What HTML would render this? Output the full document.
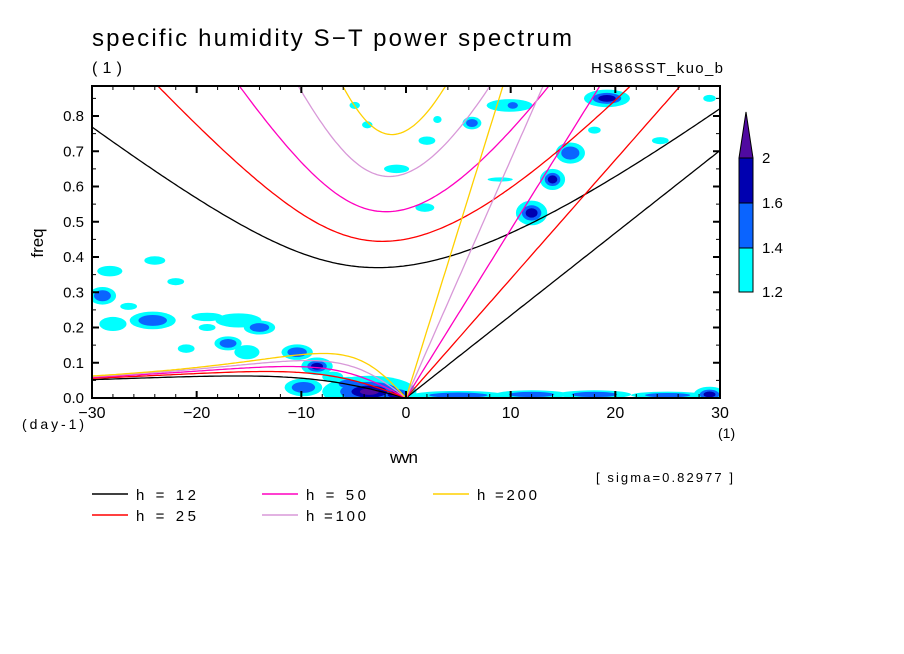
<!DOCTYPE html>
<html><head><meta charset="utf-8"><style>
body{margin:0;background:#fff;}
svg{display:block;font-family:"Liberation Sans",sans-serif;}
</style></head><body>
<svg id="chart" width="904" height="654" viewBox="0 0 904 654">
<defs><clipPath id="pc"><rect x="92" y="86" width="628" height="312"/></clipPath></defs>
<text x="92" y="46" font-size="24" textLength="480" lengthAdjust="spacing">specific humidity S−T power spectrum</text>
<text x="92" y="73" font-size="16" textLength="30">(1)</text>
<text x="591" y="73" font-size="15" textLength="132">HS86SST_kuo_b</text>
<g id="blobs" clip-path="url(#pc)"></g>
<g id="curves" clip-path="url(#pc)"></g>
<rect x="92" y="86" width="628" height="312" fill="none" stroke="#000" stroke-width="2"/>
<g id="axes"></g>
<text x="43" y="243" font-size="17" transform="rotate(-90 43 243)" text-anchor="middle">freq</text>
<text x="390" y="463" font-size="17" textLength="28">wvn</text>
<text x="22" y="429" font-size="14" textLength="62">(day-1)</text>
<text x="718" y="438" font-size="14">(1)</text>
<text x="596" y="482" font-size="13" textLength="137">[ sigma=0.82977 ]</text>
<g id="legend"></g>
<g id="cbar"></g>
</svg>
<script>
const NS="http://www.w3.org/2000/svg";
const depths=[12,25,50,100,200];
const curveColors=["#000000","#ff0000","#ff00c0","#d898d8","#ffd000"];
const xTicks=[-30,-20,-10,0,10,20,30];
const yTicks=[0,0.1,0.2,0.3,0.4,0.5,0.6,0.7,0.8];
const levelLabels=["1.2","1.4","1.6","2"];
const levelColors=["#00ffff","#0a64ff","#0000b0","#500aa0"];
// blobs: wvn, freq, half-width (wvn), half-height (freq), level (1..4)
const blobW=[-29,-24,-28.3,-24.2,-28,-26.5,-19,-16,-14,-17,-15.2,-10.4,-21,-8.5,-9.8,-19,-22,-3.5,-1,-7,19.2,9.9,15.7,14,12,18,24.3,29,6.3,2,-0.9,1.8,-3.7,-4.9,3,10.2,9,5,12,18,25,29,-5.5];
const blobF=[0.29,0.39,0.36,0.22,0.21,0.26,0.23,0.22,0.20,0.155,0.13,0.13,0.14,0.09,0.03,0.2,0.33,0.018,0.01,0.06,0.85,0.83,0.695,0.62,0.525,0.76,0.73,0.85,0.78,0.73,0.65,0.54,0.775,0.83,0.79,0.83,0.62,0.008,0.01,0.01,0.008,0.01,0.04];
const blobRW=[1.3,1,1.2,2.2,1.3,0.8,1.5,2.2,1.5,1.3,1.2,1.5,0.8,1.5,1.8,0.8,0.8,4.5,2,1,2.2,2.2,1.4,1.2,1.5,0.6,0.8,0.6,0.9,0.8,1.2,0.9,0.5,0.5,0.4,0.8,1.2,4.5,3.5,3.5,3.5,1.5,1.5];
const blobRF=[0.025,0.012,0.015,0.025,0.02,0.01,0.012,0.02,0.02,0.02,0.02,0.022,0.012,0.025,0.025,0.01,0.01,0.045,0.025,0.015,0.025,0.018,0.03,0.03,0.035,0.01,0.01,0.01,0.018,0.012,0.012,0.012,0.01,0.01,0.01,0.015,0.006,0.012,0.012,0.012,0.01,0.022,0.02];
const blobL=[2,1,1,2,1,1,1,1,2,2,1,2,1,3,2,1,1,4,4,1,3,1,2,3,3,1,1,1,2,1,1,1,1,1,1,2,1,2,2,2,2,3,2];

const X=w=>406+w*10.4667, Y=f=>398-f*352.5;
function mk(tag,attrs,parent){const e=document.createElementNS(NS,tag);for(const k in attrs)e.setAttribute(k,attrs[k]);parent.appendChild(e);return e;}

const bg=document.getElementById('blobs');
const scales=[1,0.62,0.38,0.2];
for(let lv=0;lv<4;lv++){
  for(let i=0;i<blobW.length;i++){
    if(blobL[i]<=lv) continue;
    const e=mk('ellipse',{cx:X(blobW[i]),cy:Y(blobF[i]),rx:blobRW[i]*10.4667*scales[lv],ry:blobRF[i]*352.5*scales[lv],fill:levelColors[lv]},bg);
    
    
  }
}

const g=9.8,a=6.371e6,Om=7.292e-5,beta=2*Om/a,cpd=86400/(2*Math.PI);
const cg=document.getElementById('curves');
function poly(pts,col,name){const e=mk('polyline',{points:pts.map(p=>p[0].toFixed(1)+','+p[1].toFixed(1)).join(' '),fill:'none',stroke:col,'stroke-width':1.3},cg);
  }
depths.forEach((h,i)=>{
  const c=Math.sqrt(g*h),col=curveColors[i];
  const ig=[],ros=[],kel=[];
  for(let w=-30;w<=30.001;w+=0.25){
    const k=w/a;
    const p=c*c*k*k+3*beta*c,q=beta*k*c*c;
    let om=Math.sqrt(p)+Math.abs(q)/p+1e-7;
    for(let n=0;n<50;n++){const f=om*om*om-p*om-q,d=3*om*om-p;om-=f/d;}
    ig.push([X(w),Y(om*cpd)]);
    if(w<=0){const r=-beta*k/(k*k+3*beta/c);ros.push([X(w),Y(r*cpd)]);}
    if(w>=0){kel.push([X(w),Y(c*k*cpd)]);}
  }
  poly(ig,col,'gravity-wave-curve-h'+h);
  poly(ros,col,'rossby-wave-curve-h'+h);
  poly(kel,col,'kelvin-wave-curve-h'+h);
});

const ax=document.getElementById('axes');
for(let w=-30;w<=30;w+=2){
  const major=w%10===0,len=major?7:4;
  mk('line',{x1:X(w),x2:X(w),y1:398,y2:398-len,stroke:'#000','stroke-width':major?2:1},ax);
  mk('line',{x1:X(w),x2:X(w),y1:86,y2:86+len,stroke:'#000','stroke-width':major?2:1},ax);
}
xTicks.forEach(w=>{const t=mk('text',{x:X(w),y:418,'font-size':16,'text-anchor':'middle'},ax);t.textContent=(w<0?'−':'')+Math.abs(w);
  });
for(let f=0;f<=0.88;f+=0.05){
  const major=Math.round(f*100)%10===0,len=major?7:4;
  mk('line',{x1:92,x2:92+len,y1:Y(f),y2:Y(f),stroke:'#000','stroke-width':major?2:1},ax);
  mk('line',{x1:720,x2:720-len,y1:Y(f),y2:Y(f),stroke:'#000','stroke-width':major?2:1},ax);
}
yTicks.forEach(f=>{const t=mk('text',{x:84,y:Y(f)+5,'font-size':15,'text-anchor':'end'},ax);t.textContent=f.toFixed(1);
  });

const lg=document.getElementById('legend');
const legText=["h = 12","h = 25","h = 50","h =100","h =200"];
const legX=[92,92,262,262,433],legY=[494,515,494,515,494];
depths.forEach((h,i)=>{
  const e=mk('g',{},lg);
  
  mk('line',{x1:legX[i],x2:legX[i]+36,y1:legY[i],y2:legY[i],stroke:curveColors[i],'stroke-width':1.5},e);
  const t=mk('text',{x:legX[i]+44,y:legY[i]+6,'font-size':15,textLength:60},e);t.textContent=legText[i];
});

const cb=document.getElementById('cbar');
mk('rect',{x:739,y:248,width:14,height:44,fill:levelColors[0],stroke:'#000','stroke-width':1},cb);
mk('rect',{x:739,y:203,width:14,height:45,fill:levelColors[1],stroke:'#000','stroke-width':1},cb);
mk('rect',{x:739,y:158,width:14,height:45,fill:levelColors[2],stroke:'#000','stroke-width':1},cb);
mk('polygon',{points:'739,158 753,158 746,112',fill:levelColors[3],stroke:'#000','stroke-width':1},cb);
const lblY=[292,248,203,158];
levelLabels.forEach((l,i)=>{const t=mk('text',{x:762,y:lblY[i]+5,'font-size':15},cb);t.textContent=l;
  });
</script>
</body></html>
